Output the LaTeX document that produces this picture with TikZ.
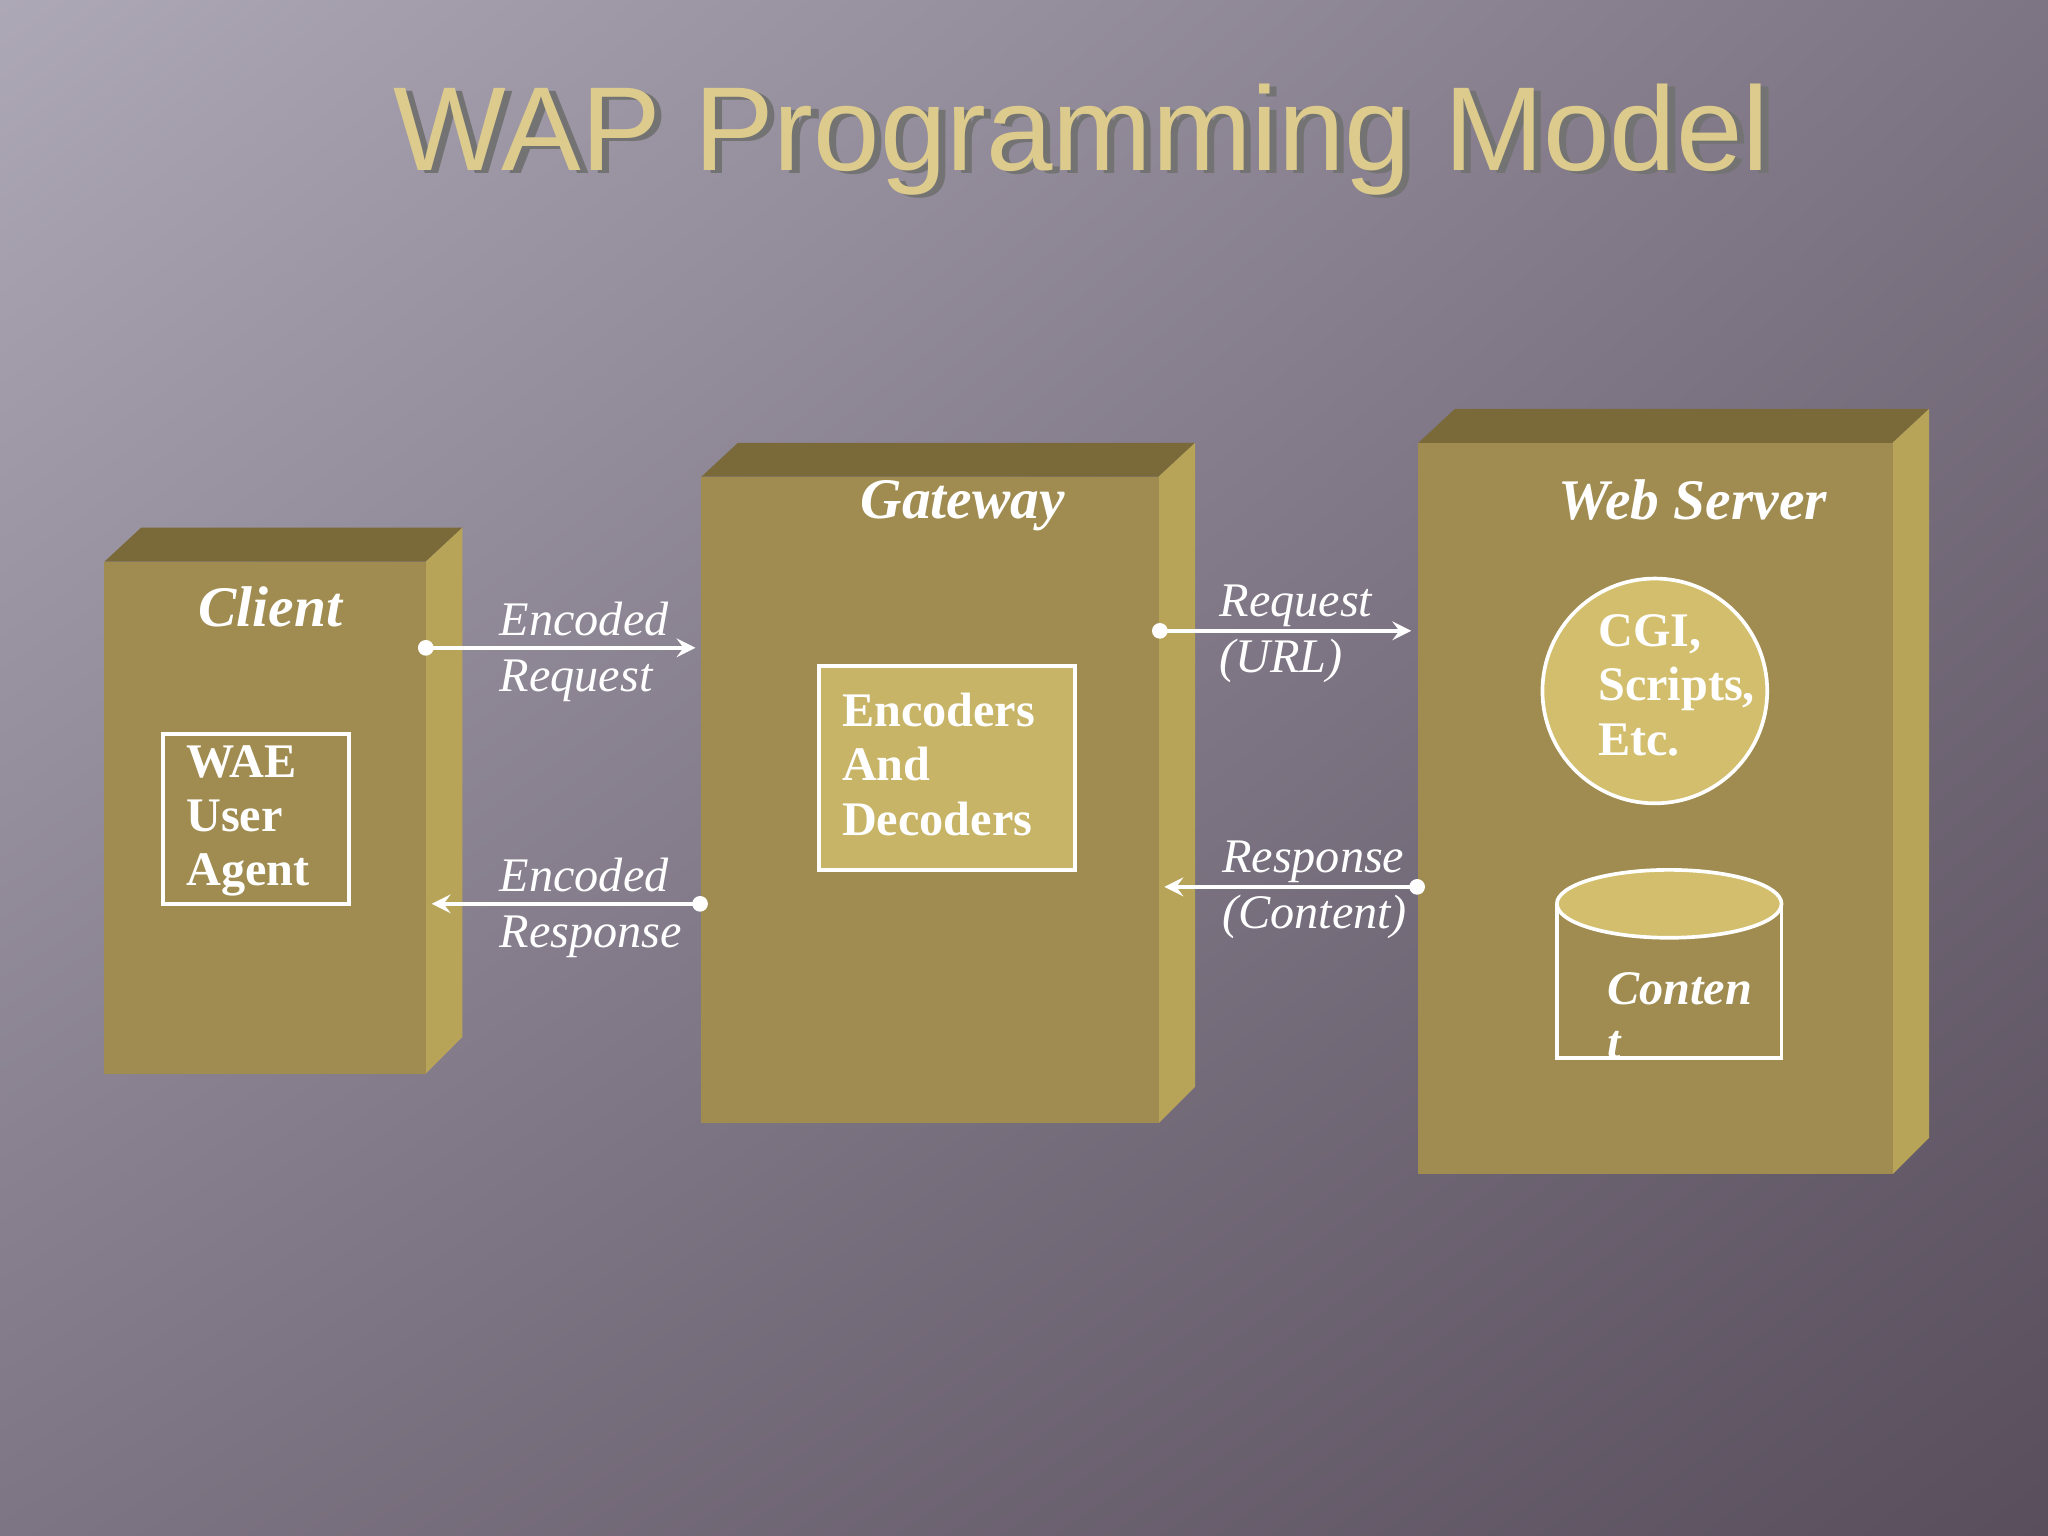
\documentclass[tikz,border=0pt]{standalone}
\usepackage{fontspec}
\setmainfont{Liberation Serif}
\newfontfamily\titlefont{Liberation Sans}
\usetikzlibrary{arrows,shapes.geometric,shadings}

\definecolor{front}{HTML}{A08C50}
\definecolor{topface}{HTML}{7A6A3A}
\definecolor{sideface}{HTML}{B8A458}
\definecolor{gold}{HTML}{D2BE6C}
\definecolor{titlegold}{HTML}{DCCB8C}
\definecolor{bglight}{HTML}{ADA8B6}
\definecolor{bgmid}{HTML}{7E7584}
\definecolor{bgdark}{HTML}{584E5C}

\newcommand{\slab}[5]{% x1,y1,x2,y2,name
    \fill[topface] (#1,#2) -- ++(28,-26) -- (#3+28,#2-26) -- (#3,#2) -- cycle;
    \fill[sideface] (#3,#2) -- ++(28,-26) -- (#3+28,#4-28) -- (#3,#4) -- cycle;
    \fill[front] (#1,#2) rectangle (#3,#4);
    \coordinate (#5) at ({(#1+#3)/2},{(#2+#4)/2});
}

\begin{document}
\begin{tikzpicture}[x=0.01cm, y=-0.01cm,
    >=stealth,
    box/.style={font=\bfseries\itshape\fontsize{12.5}{15}\selectfont, text=white},
    lbl/.style={text=white, align=left, font=\itshape\fontsize{10.5}{12.2}\selectfont, anchor=north west, inner sep=0pt},
    bold/.style={lbl, font=\bfseries\fontsize{10.5}{11.8}\selectfont},
    link/.style={white, thick, -stealth, shorten >=1pt},
]
    % Background
    \shade[upper left=bglight, upper right=bgmid, lower left=bgmid, lower right=bgdark]
        (0,0) rectangle (1568,1176);
    \useasboundingbox (0,0) rectangle (1568,1176);

    % Title with its shadow
    \node (title) [text=titlegold, font=\titlefont\fontsize{26}{30}\selectfont,
        preaction={}] at (828,108) {\makebox[0pt][l]{\raisebox{-0.6pt}{\hspace{1.6pt}\textcolor{black!55}{WAP Programming Model}}}\hspace{0pt}WAP Programming Model};

    % Blocks
    \slab{80}{430}{326}{822}{client}
    \slab{537}{365}{887}{860}{gateway}
    \slab{1086}{339}{1449}{899}{server}

    \node (clientlbl) [box] at (207,465) {Client};
    \node (gatewaylbl) [box] at (737,387) {Gateway};
    \node (serverlbl) [box] at (1296,383) {Web Server};

    % Inner parts
    \draw[white, thick] (125,562) rectangle (267,692);
    \node (wae) [bold] at (142,570) {WAE\\User\\Agent};
    \draw[white, thick, fill=gold!80!front] (627,510) rectangle (823,666);
    \node (codec) [bold] at (644,530) {Encoders\\And\\Decoders};
    \node (cgi) [circle, draw=white, thick, fill=gold, minimum size=1.72cm] at (1267,529) {};
    \node [bold] at (1223,470) {CGI,\\Scripts,\\Etc.};
    \draw[white, thick] (1192,692) -- (1192,810) -- (1364,810) -- (1364,692);
    \draw[white, thick, fill=gold] (1278,692) ellipse (86 and 26);
    \node (content) [bold, font=\bfseries\itshape\fontsize{10.5}{11.8}\selectfont] at (1230,744) {Conten\\t};

    % Links
    \coordinate (c1) at (326,496); \coordinate (g1) at (536,496);
    \coordinate (g2) at (536,692); \coordinate (c2) at (327,692);
    \coordinate (g3) at (888,483); \coordinate (s1) at (1084,483);
    \coordinate (s2) at (1085,679); \coordinate (g4) at (888,679);
    \draw[link] (c1) -- (g1);
    \draw[link] (g2) -- (c2);
    \draw[link] (g3) -- (s1);
    \draw[link] (s2) -- (g4);
    \foreach \p in {c1,g2,g3,s2} \fill[white] (\p) circle (6);

    \node (req) [lbl] at (382,460) {Encoded\\Request};
    \node (resp) [lbl] at (382,656) {Encoded\\Response};
    \node (url) [lbl] at (933,447) {Request\\(URL)};
    \node (cont) [lbl] at (935,643) {Response\\(Content)};
\end{tikzpicture}
\end{document}
